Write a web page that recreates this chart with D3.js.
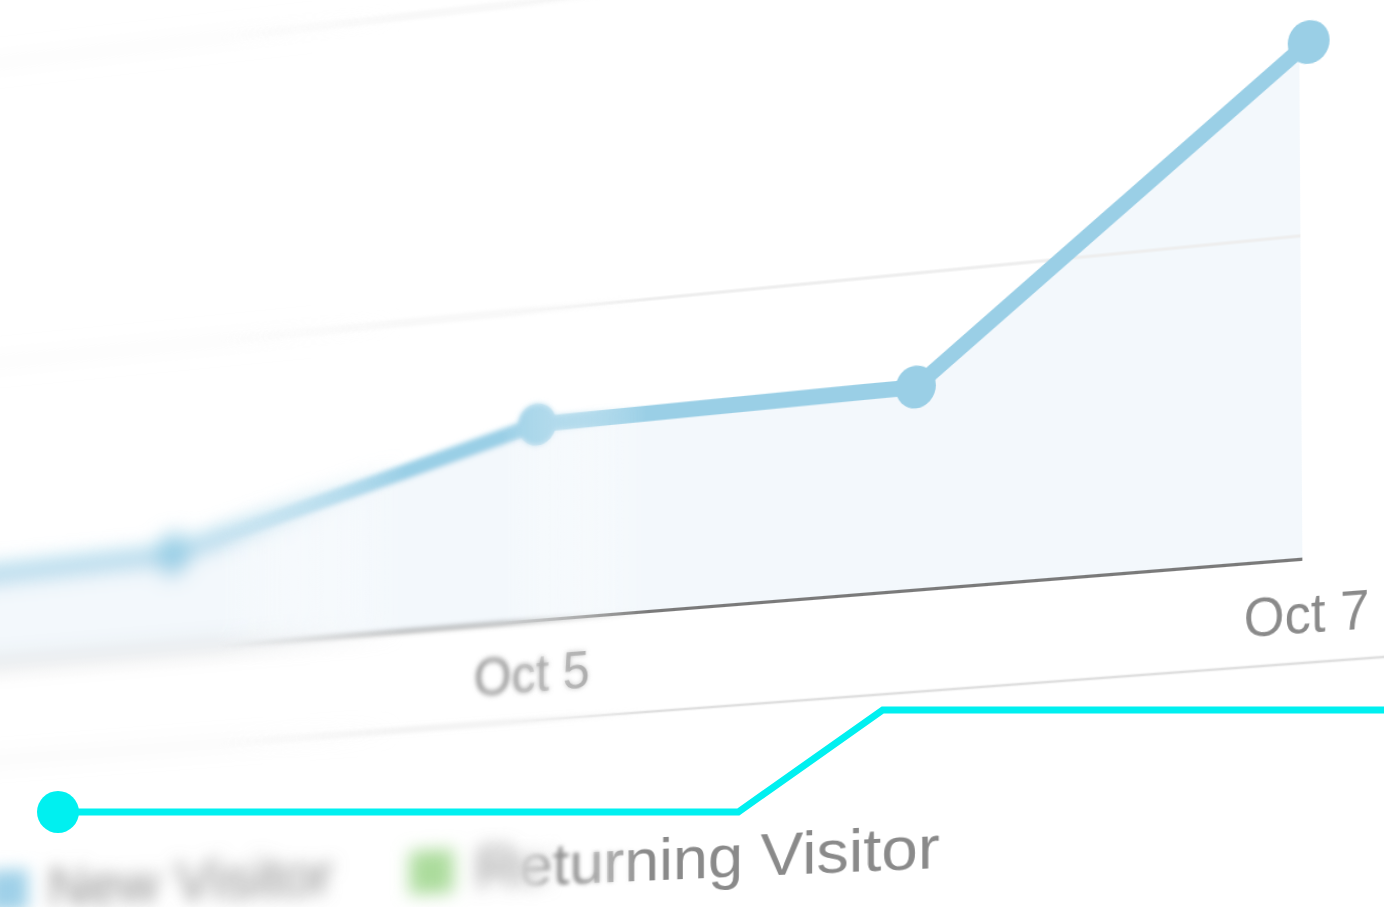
<!DOCTYPE html>
<html>
<head>
<meta charset="utf-8">
<script src="https://cdn.jsdelivr.net/npm/d3@7"></script>
<style>
  html, body { margin: 0; padding: 0; background: #fff; overflow: hidden; }
  #stage { position: relative; width: 1384px; height: 907px; overflow: hidden; background: #fff; }
  #plane, #legend { position: absolute; left: 0; top: 0; transform-origin: 0 0; }
  #overlay { position: absolute; left: 0; top: 0; }
  text { font-family: "Liberation Sans", Arial, Helvetica, sans-serif; }
</style>
</head>
<body>
<div id="stage">
  <div id="plane"></div>
  <div id="legend"></div>
  <div id="overlay"></div>
</div>
<script>
// chart data
var days = ["Oct 3", "Oct 4", "Oct 5", "Oct 6", "Oct 7"];
var visits = [14, 15.5, 31.5, 32, 80];
var tickDays = ["Oct 3", "Oct 5", "Oct 7"];
var gridValues = [50, 100];

// legend
var legendLabels = ["New Visitor", "Returning Visitor"];
var legendColors = ["#9fd0e8", "#acdc9c"];

// cyan accent step line
var accentT = [0, 51.3, 62.2, 100];
var accentLevel = [0, 0, 1, 1];

function cssMatrix(m) {
    return "matrix3d(" + [m[0], m[3], 0, m[6], m[1], m[4], 0, m[7], 0, 0, 1, 0, m[2], m[5], 0, 1].join(",") + ")";
}

// blur filters + complementary gradient masks, to fake depth of field
function depthLayers(svg, defs, prefix, contentId, box, heavyStd, midStd, stops) {
    [["Heavy", heavyStd], ["Mid", midStd]].forEach(function (f) {
        defs.append("filter")
            .attr("id", prefix + f[0])
            .attr("filterUnits", "userSpaceOnUse")
            .attr("x", box[0]).attr("y", box[1])
            .attr("width", box[2]).attr("height", box[3])
            .append("feGaussianBlur")
            .attr("stdDeviation", f[1]);
    });

    function addMask(id, grad, x1, x2) {
        var g = defs.append("linearGradient")
            .attr("id", id + "Grad")
            .attr("gradientUnits", "userSpaceOnUse")
            .attr("x1", x1).attr("x2", x2)
            .attr("y1", 0).attr("y2", 0);
        g.selectAll("stop")
            .data(grad)
            .enter()
            .append("stop")
            .attr("offset", function (d) { return d[0]; })
            .attr("stop-color", function (d) { return d[1]; });
        defs.append("mask")
            .attr("id", id)
            .attr("maskUnits", "userSpaceOnUse")
            .attr("x", box[0]).attr("y", box[1])
            .attr("width", box[2]).attr("height", box[3])
            .append("rect")
            .attr("x", box[0]).attr("y", box[1])
            .attr("width", box[2]).attr("height", box[3])
            .attr("fill", "url(#" + id + "Grad)");
    }

    // stops: heavy fades out a->b, sharp fades in c->d, soft blur in between
    var a = stops[0], b = stops[1], c = stops[2], d = stops[3];
    addMask(prefix + "mHeavy", [[0, "#fff"], [1, "#000"]], a, b);
    addMask(prefix + "mMid", [[0, "#000"], [(b - a) / (d - a), "#fff"], [(c - a) / (d - a), "#fff"], [1, "#000"]], a, d);
    addMask(prefix + "mSharp", [[0, "#000"], [1, "#fff"]], c, d);

    svg.append("g").attr("mask", "url(#" + prefix + "mHeavy)").attr("filter", "url(#" + prefix + "Heavy)")
        .append("use").attr("href", "#" + contentId);
    svg.append("g").attr("mask", "url(#" + prefix + "mMid)").attr("filter", "url(#" + prefix + "Mid)")
        .append("use").attr("href", "#" + contentId);
    svg.append("g").attr("mask", "url(#" + prefix + "mSharp)")
        .append("use").attr("href", "#" + contentId);
}

function init() {
    var W = 1900, H = 1000;

    // flat chart plane
    var xScale = d3.scalePoint()
        .domain(days)
        .range([169, 1705]);

    var yScale = d3.scaleLinear()
        .domain([0, 50])
        .range([720, 425]);

    var svg = d3.select("#plane")
        .append("svg")
        .attr("width", W)
        .attr("height", H);

    var defs = svg.append("defs");

    var x7 = xScale(days[days.length - 1]);
    var data = days.map(function (d, i) { return { day: d, v: visits[i] }; });

    // plot area ends a little before the last point
    defs.append("clipPath")
        .attr("id", "plotClip")
        .append("rect")
        .attr("x", -300).attr("y", -300)
        .attr("width", x7 - 9 + 300).attr("height", H + 600);

    var content = defs.append("g").attr("id", "chartContent");

    // separator under the axis labels
    content.append("line")
        .attr("x1", 0)
        .attr("x2", W)
        .attr("y1", yScale(0) + 95)
        .attr("y2", yScale(0) + 95)
        .attr("stroke", "#e0e0e0")
        .attr("stroke-width", 2.5);

    var plot = content.append("g").attr("clip-path", "url(#plotClip)");

    // area
    var area = d3.area()
        .x(function (d) { return xScale(d.day); })
        .y0(yScale(0))
        .y1(function (d) { return yScale(d.v); });

    plot.append("path")
        .datum(data)
        .attr("d", area)
        .attr("fill", "#f3f8fc");

    // gridlines, drawn over the light area
    plot.selectAll("line.grid")
        .data(gridValues)
        .enter()
        .append("line")
        .attr("class", "grid")
        .attr("x1", 0)
        .attr("x2", x7)
        .attr("y1", function (d) { return yScale(d); })
        .attr("y2", function (d) { return yScale(d); })
        .attr("stroke", "#eeeeee")
        .attr("stroke-width", 3);

    // axis
    var axis = content.append("g")
        .attr("transform", "translate(0," + yScale(0) + ")")
        .call(d3.axisBottom(xScale)
            .tickValues(tickDays)
            .tickSize(0)
            .tickSizeOuter(0));

    axis.select(".domain")
        .attr("clip-path", "url(#plotClip)")
        .attr("stroke", "#7a7a7a")
        .attr("stroke-width", 3);

    axis.selectAll("text")
        .attr("y", 68)
        .attr("dy", 0)
        .attr("dx", -6)
        .attr("fill", "#8a8a8a")
        .style("font-size", "50px")
        .style("font-family", "'Liberation Sans', Arial, sans-serif");

    // line
    var line = d3.line()
        .x(function (d) { return xScale(d.day); })
        .y(function (d) { return yScale(d.v); });

    content.append("path")
        .datum(data)
        .attr("d", line)
        .attr("fill", "none")
        .attr("stroke", "#9acfe6")
        .attr("stroke-width", 15)
        .attr("stroke-linejoin", "round");

    content.selectAll("circle")
        .data(data)
        .enter()
        .append("circle")
        .attr("cx", function (d) { return xScale(d.day); })
        .attr("cy", function (d) { return yScale(d.v); })
        .attr("r", 20)
        .attr("fill", "#9acfe6");

    depthLayers(svg, defs, "c", "chartContent", [-300, -300, W + 600, H + 600], 10, 2.6, [600, 800, 900, 1050]);

    // perspective: map the flat plane onto the photo
    var x5 = xScale("Oct 5");
    var src = [[x7, yScale(0)], [x7, yScale(50)], [x5, yScale(0)], [x5, yScale(50)]];
    var dst = [[1312, 558], [1310, 235], [537, 620], [537, 310]];
    d3.select("#plane").style("transform", cssMatrix(homography(src, dst)));

    drawLegend();
    drawAccent();
}

function homography(src, dst) {
    var A = [], b = [];
    for (var i = 0; i < 4; i++) {
        var x = src[i][0], y = src[i][1], X = dst[i][0], Y = dst[i][1];
        A.push([x, y, 1, 0, 0, 0, -x * X, -y * X]); b.push(X);
        A.push([0, 0, 0, x, y, 1, -x * Y, -y * Y]); b.push(Y);
    }
    var n = 8;
    for (var c = 0; c < n; c++) {
        var p = c;
        for (var r = c + 1; r < n; r++) if (Math.abs(A[r][c]) > Math.abs(A[p][c])) p = r;
        var t = A[c]; A[c] = A[p]; A[p] = t;
        t = b[c]; b[c] = b[p]; b[p] = t;
        for (var r2 = c + 1; r2 < n; r2++) {
            var f = A[r2][c] / A[c][c];
            for (var k = c; k < n; k++) A[r2][k] -= f * A[c][k];
            b[r2] -= f * b[c];
        }
    }
    var s = new Array(n);
    for (var r3 = n - 1; r3 >= 0; r3--) {
        var sum = b[r3];
        for (var k2 = r3 + 1; k2 < n; k2++) sum -= A[r3][k2] * s[k2];
        s[r3] = sum / A[r3][r3];
    }
    return s;
}

function drawLegend() {
    var LW = 1400, LH = 300, ox = 100, oy = 180;
    var fontSize = 62, cap = 44;

    var svg = d3.select("#legend")
        .append("svg")
        .attr("width", LW)
        .attr("height", LH);

    var defs = svg.append("defs");

    var g = defs.append("g").attr("id", "legendContent")
        .attr("transform", "translate(" + ox + "," + oy + ")");

    var items = g.selectAll("g")
        .data(legendLabels)
        .enter()
        .append("g");

    items.append("rect")
        .attr("x", 0).attr("y", -42)
        .attr("width", 46).attr("height", 46)
        .attr("fill", function (d, i) { return legendColors[i]; });

    items.append("text")
        .attr("x", 68)
        .attr("y", 0)
        .attr("fill", "#8a8a8a")
        .style("font-size", fontSize + "px")
        .text(function (d) { return d; });

    // lay out items one after another
    var pos = 0, starts = [], ends = [];
    items.each(function () {
        var w = this.querySelector("text").getComputedTextLength();
        d3.select(this).attr("transform", "translate(" + pos + ",0)");
        starts.push(pos + 68);
        ends.push(pos + 68 + w);
        pos += 68 + w + 80;
    });

    var t1 = starts[1] + ox;
    depthLayers(svg, defs, "l", "legendContent", [0, 0, LW, LH], 9, 2.2, [t1 + 40, t1 + 90, t1 + 100, t1 + 170]);

    // upright text, slight tilt and depth toward the left
    var src = [[starts[1] + ox, oy], [starts[1] + ox, oy - cap], [ends[1] + ox, oy], [ends[1] + ox, oy - cap]];
    var dst = [[475, 888], [475, 846], [940, 868], [940, 824]];
    d3.select("#legend").style("transform", cssMatrix(homography(src, dst)));
}

function drawAccent() {
    var svg = d3.select("#overlay")
        .append("svg")
        .attr("width", 1384)
        .attr("height", 907);

    var tx = d3.scaleLinear().domain([0, 100]).range([58, 1384]);
    var ly = d3.scaleLinear().domain([0, 1]).range([812, 710]);

    var pts = accentT.map(function (t, i) { return [tx(t), ly(accentLevel[i])]; });

    svg.append("path")
        .attr("d", d3.line()(pts))
        .attr("fill", "none")
        .attr("stroke", "#00f0f0")
        .attr("stroke-width", 7);

    svg.append("circle")
        .attr("cx", tx(accentT[0]))
        .attr("cy", ly(accentLevel[0]))
        .attr("r", 21)
        .attr("fill", "#00f0f0");
}

window.onload = init;
</script>
</body>
</html>
